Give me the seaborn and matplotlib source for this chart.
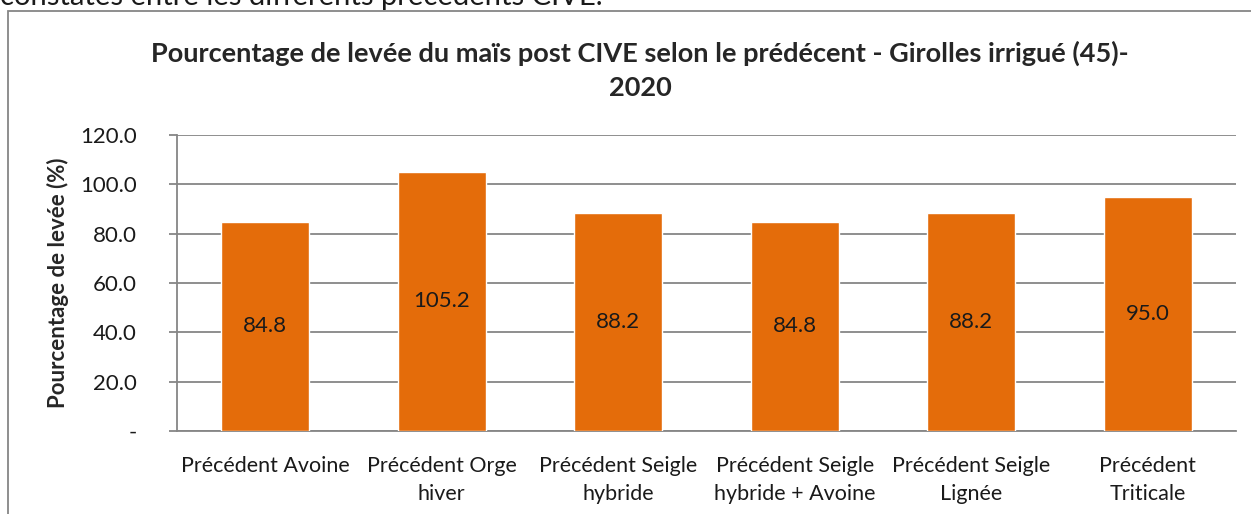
import matplotlib
matplotlib.use("Agg")
import matplotlib.pyplot as plt
import seaborn as sns
import pandas as pd
from matplotlib.patches import Rectangle

categories = ["Précédent Avoine", "Précédent Orge\nhiver", "Précédent Seigle\nhybride",
              "Précédent Seigle\nhybride + Avoine", "Précédent Seigle\nLignée", "Précédent\nTriticale"]
values = [84.8, 105.2, 88.2, 84.8, 88.2, 95.0]
yticks = [0, 20, 40, 60, 80, 100, 120]
ytick_labels = ["-", "20.0", "40.0", "60.0", "80.0", "100.0", "120.0"]

sns.set_theme(style="white")
plt.rcParams['font.family'] = ['Lato', 'DejaVu Sans']

W, H = 1251, 514
fig = plt.figure(figsize=(W / 100, H / 100), dpi=100)
ax = fig.add_axes([177 / W, 1 - 431 / H, (1236 - 177) / W, (431 - 135) / H])

df = pd.DataFrame({"cat": categories, "val": values})
sns.barplot(data=df, x="cat", y="val", color="#E46C0A", saturation=1, width=0.5, ax=ax, zorder=3)

ax.set_xlim(-0.5, len(categories) - 0.5)
ax.set_ylim(0, 120)
ax.set_yticks(yticks)
ax.set_yticklabels(ytick_labels, fontsize=16, color="#1a1a1a")
ax.yaxis.grid(True, color="#868686", linewidth=1.3, zorder=0)
ax.set_axisbelow(True)

ax.set_xticks(range(len(categories)))
ax.set_xticklabels(categories, fontsize=15.5, color="#1a1a1a", linespacing=1.5)
ax.tick_params(axis="x", length=0, pad=18)
ax.set_xticks([i - 0.5 for i in range(len(categories) + 1)], minor=True)
ax.tick_params(axis="x", which="minor", length=6, width=1.3, color="#868686", direction="out")
ax.tick_params(axis="y", length=6, width=1.3, color="#868686", direction="out", pad=23, left=True)

for s in ["top", "right"]:
    ax.spines[s].set_visible(False)
for s in ["left", "bottom"]:
    ax.spines[s].set_color("#868686")
    ax.spines[s].set_linewidth(1.3)

ax.set_xlabel("")
ax.set_ylabel("Pourcentage de levée (%)", fontsize=16, fontweight="bold", labelpad=8)

for i, v in enumerate(values):
    ax.text(i, v / 2, f"{v:.1f}", ha="center", va="center", fontsize=16, color="#1a1a1a", zorder=4)

fig.text(640 / W, 1 - 53 / H, "Pourcentage de levée du maïs post CIVE selon le prédécent - Girolles irrigué (45)-",
         ha="center", va="center", fontsize=19.5, fontweight="bold")
fig.text(640 / W, 1 - 88 / H, "2020", ha="center", va="center", fontsize=19.5, fontweight="bold")

fig.text(0 / W, 1 + 3 / H, "constatés entre les différents précédents CIVE.", ha="left", va="center",
         fontsize=21, color="#1a1a1a")

fig.add_artist(Rectangle((8 / W, -0.1), 1.2, 1 - 11 / H + 0.1, transform=fig.transFigure,
                         fill=False, edgecolor="#868686", linewidth=1.3))

fig.savefig("out.png", dpi=100)
